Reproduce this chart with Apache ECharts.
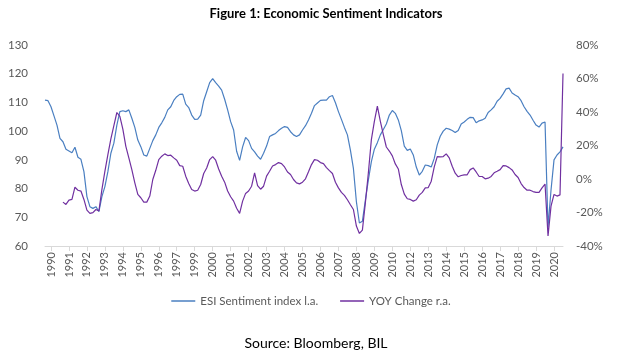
<!DOCTYPE html>
<html>
<head>
<meta charset="utf-8">
<script src="https://cdn.jsdelivr.net/npm/echarts@6/dist/echarts.min.js"></script>
<style>
html,body{margin:0;padding:0;background:#fff;}
#chart{width:622px;height:357px;}
</style>
</head>
<body>
<div id="chart"></div>
<script>
// Year labels shown on the category axis (one every 6 samples, as in the source)
const tickLabels = ['1990','1991','1992','1993','1994','1995','1996','1997','1999','2000','2001','2002','2003','2004','2005','2006','2007','2008','2009','2010','2012','2013','2014','2015','2016','2017','2018','2019','2020'];
const labelStep = 6;
const labelOffset = 2;

// ESI Sentiment index (left axis)
const esi = [
110.8,110.6,108.5,105.3,102.1,97.5,96.3,93.7,93.1,92.5,
94.4,90.9,90.2,85.9,77.2,73.7,73.1,73.7,72.0,77.2,
80.7,85.9,92.3,95.8,102.1,106.8,107.1,106.8,107.4,104.5,
101.3,96.9,94.6,91.7,91.3,94.0,96.7,98.7,101.3,102.9,
104.8,107.4,108.5,110.7,112.0,112.8,112.9,109.4,108.2,105.6,
104.1,104.2,105.6,110.6,113.7,116.9,118.3,116.9,115.7,114.3,
111.1,107.4,103.3,100.4,93.0,89.8,94.5,97.8,96.7,94.0,
92.8,91.3,90.2,92.3,94.8,98.1,98.7,99.2,100.2,101.0,
101.6,101.3,99.8,98.7,98.1,98.7,100.4,101.9,103.9,106.2,
108.9,109.8,110.7,110.8,110.8,112.0,112.4,109.9,106.8,104.1,
101.3,98.7,93.4,87.0,75.4,68.0,68.6,76.0,83.0,89.4,
93.7,96.0,98.7,100.6,102.5,105.6,107.2,106.2,103.9,100.2,
94.8,93.3,93.8,91.7,87.5,84.7,86.0,88.2,88.0,87.5,
90.5,95.2,98.2,100.0,101.0,100.7,100.2,99.5,100.2,102.5,
103.2,104.1,104.8,104.7,102.9,103.6,103.9,104.5,106.5,107.4,
108.5,110.4,111.4,113.0,114.7,115.0,113.3,112.6,112.0,110.6,
108.5,106.9,105.6,103.8,102.1,101.4,102.8,103.2,66.5,79.5,
90.0,91.7,92.8,94.5
];

// YOY change in % (right axis)
const yoy = [
null,null,null,null,null,null,-13.8,-15.2,-12.6,-12.2,
-4.9,-6.7,-7.2,-12.2,-18.6,-20.5,-20.1,-18.2,-19.1,-6.3,
4.6,14.6,23.9,31.8,39.7,37.4,29.8,19.5,12.6,5.6,
-2.3,-9.2,-11.2,-13.8,-13.8,-10.2,-0.3,5.2,11.6,13.6,
15.0,14.0,14.2,12.6,11.2,8.0,7.6,1.7,-2.7,-6.3,
-7.2,-6.7,-3.3,3.3,6.6,11.6,13.4,11.2,6.0,1.7,
-1.9,-7.2,-10.6,-13.2,-17.5,-20.5,-13.2,-8.6,-7.2,-4.3,
3.7,-3.9,-6.1,-4.3,1.7,4.6,7.8,8.6,9.8,9.2,
7.2,4.2,2.7,-0.3,-2.3,-2.9,-1.9,0.1,4.3,8.6,
11.6,11.2,9.8,9.2,6.8,5.0,3.3,-1.9,-5.3,-8.0,
-9.8,-12.4,-15.4,-18.2,-28.1,-32.5,-30.5,-14.2,3.7,23.5,
34.4,43.5,34.4,26.5,19.1,16.7,13.8,9.0,6.0,-3.3,
-9.0,-11.8,-12.2,-13.2,-12.4,-9.6,-8.0,-5.3,-5.1,-1.3,
7.2,13.4,13.2,13.4,15.0,12.6,7.6,3.5,1.3,2.1,
2.5,2.5,5.6,6.6,4.2,1.5,1.5,0.1,0.5,1.5,
3.7,4.6,5.6,8.0,7.8,6.8,5.4,2.7,0.9,-2.7,
-5.1,-6.7,-6.7,-7.5,-8.0,-8.0,-5.3,-3.0,-34.0,-16.2,
-9.2,-10.2,-9.5,63.0
];

const categories = esi.map((v, i) => 'p' + i);
const isLabel = (i) => i >= labelOffset && (i - labelOffset) % labelStep === 0 && (i - labelOffset) / labelStep < tickLabels.length;

const FONT = 'Lato, "Open Sans", sans-serif';
const GREY = '#595959';

const chart = echarts.init(document.getElementById('chart'), null, {renderer: 'canvas'});
chart.setOption({
  animation: false,
  backgroundColor: '#fff',
  title: {
    text: 'Figure 1: Economic Sentiment Indicators',
    left: 321, top: 2, textAlign: 'center',
    textStyle: {fontFamily: FONT, fontWeight: 'bold', fontSize: 13, color: '#000'}
  },
  grid: {left: 45, right: 59, top: 45, bottom: 111, outerBoundsMode: 'none'},
  legend: {
    left: 'center', top: 290,
    icon: 'rect',
    itemWidth: 24, itemHeight: 1.5, itemGap: 22,
    textStyle: {fontFamily: FONT, fontSize: 11.5, color: GREY},
    data: ['ESI Sentiment index l.a.', 'YOY Change r.a.']
  },
  xAxis: {
    type: 'category',
    data: categories,
    boundaryGap: false,
    axisLine: {show: true, onZero: false, lineStyle: {color: '#d9d9d9', width: 1}},
    axisTick: {show: true, interval: (i) => isLabel(i), length: 5, lineStyle: {color: '#d9d9d9'}},
    axisLabel: {
      interval: (i) => isLabel(i),
      rotate: 90,
      margin: 6,
      fontFamily: FONT, fontSize: 11, color: GREY,
      formatter: (v, i) => isLabel(i) ? tickLabels[(i - labelOffset) / labelStep] : ''
    },
    splitLine: {show: false}
  },
  yAxis: [
    {
      type: 'value', min: 60, max: 130, interval: 10,
      axisLine: {show: false}, axisTick: {show: false}, splitLine: {show: false},
      axisLabel: {fontFamily: FONT, fontSize: 11.5, color: GREY, margin: 17}
    },
    {
      type: 'value', min: -40, max: 80, interval: 20, position: 'right',
      axisLine: {show: false}, axisTick: {show: false}, splitLine: {show: false},
      axisLabel: {fontFamily: FONT, fontSize: 11.5, color: GREY, margin: 13, formatter: '{value}%'}
    }
  ],
  series: [
    {
      name: 'ESI Sentiment index l.a.', type: 'line', yAxisIndex: 0,
      data: esi, symbol: 'none', smooth: false,
      lineStyle: {color: '#4a7fc1', width: 1.2}, itemStyle: {color: '#4a7fc1'}
    },
    {
      name: 'YOY Change r.a.', type: 'line', yAxisIndex: 1,
      data: yoy, symbol: 'none', smooth: false, connectNulls: false,
      lineStyle: {color: '#7030a0', width: 1.2}, itemStyle: {color: '#7030a0'}
    }
  ],
  graphic: [
    {
      type: 'text', x: 316, y: 336,
      style: {text: 'Source: Bloomberg, BIL', fontFamily: FONT, fontSize: 14, fill: '#000', align: 'center', textAlign: 'center'}
    }
  ]
});
</script>
</body>
</html>
